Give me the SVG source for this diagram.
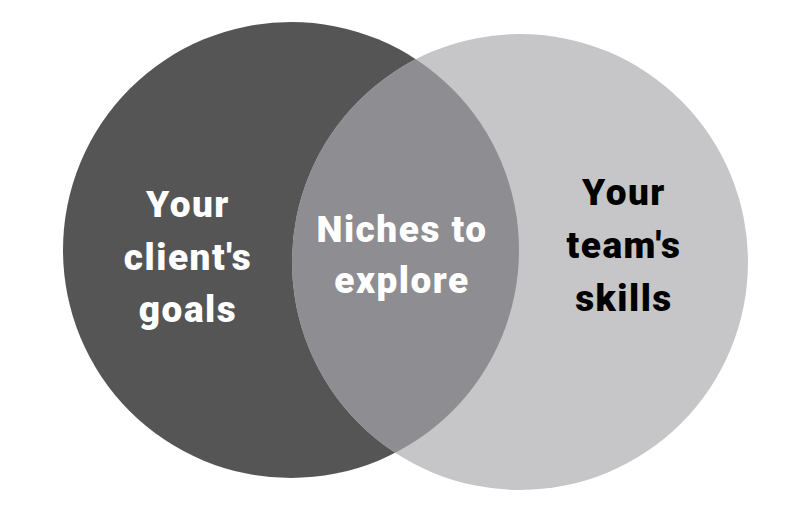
<svg xmlns="http://www.w3.org/2000/svg" width="800" height="512" viewBox="0 0 800 512">
<style>
.t{font-family:Roboto,"Liberation Sans",sans-serif;font-weight:900;font-size:37px;letter-spacing:1.5px;text-anchor:middle}
.w{fill:#ffffff}.b{fill:#000000}
</style>
<rect width="800" height="512" fill="#ffffff"/>
<g id="client-goals">
<circle cx="291" cy="250" r="228" fill="#555555"/>
</g>
<g id="team-skills">
<circle cx="520" cy="262" r="228" fill="#c6c6c8"/>
</g>
<g id="niches">
<clipPath id="cl"><circle cx="291" cy="250" r="228"/></clipPath>
<circle cx="520" cy="262" r="228" fill="#8e8d91" clip-path="url(#cl)"/>
</g>
<g id="labels">
<text class="t w" x="188" y="217">Your</text>
<text class="t w" x="188" y="270">client's</text>
<text class="t w" x="188" y="322">goals</text>
<text class="t w" x="402" y="242">Niches to</text>
<text class="t w" x="402" y="293">explore</text>
<text class="t b" x="624" y="205">Your</text>
<text class="t b" x="624" y="258">team's</text>
<text class="t b" x="624" y="311">skills</text>
</g>
<g id="connectors"></g>
</svg>
